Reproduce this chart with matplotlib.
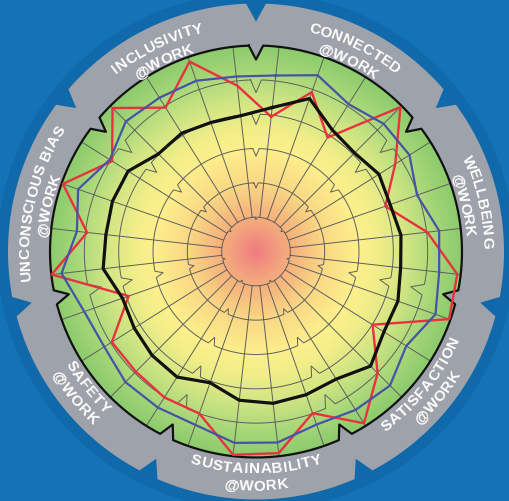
import numpy as np
import matplotlib
matplotlib.use('Agg')
import matplotlib.pyplot as plt
from matplotlib.colors import LinearSegmentedColormap
from matplotlib.font_manager import FontProperties, findfont, get_font

# scores per spoke, clockwise from the top (ring units: inner circle = 1, outer edge = 6)
red = [3.95, 4.92, 3.92, 5.95, 4.79, 3.99, 5.02, 5.90, 5.96, 4.01, 5.01, 5.91, 4.99, 5.91,
       5.96, 5.00, 5.02, 4.95, 4.96, 3.93, 5.99, 4.95, 5.96, 4.95, 5.91, 4.95, 5.86, 4.86]
blue = [5.16, 5.44, 5.07, 5.26, 5.28, 4.97, 5.37, 5.37, 5.54, 5.17, 5.52, 5.45, 5.34, 5.60,
        5.61, 5.35, 5.37, 5.38, 5.22, 5.30, 5.70, 5.25, 5.49, 5.03, 5.36, 5.29, 5.27, 5.13]
black = [4.22, 4.72, 4.18, 4.06, 4.23, 4.14, 4.25, 4.24, 4.38, 4.40, 4.72, 4.39, 4.42, 4.45,
         4.36, 4.05, 4.32, 4.28, 4.19, 4.12, 4.48, 4.40, 4.43, 4.40, 4.02, 4.07, 3.98, 3.98]

sectors = ['CONNECTED', 'WELLBEING', 'SATISFACTION', 'SUSTAINABILITY',
           'SAFETY', 'UNCONSCIOUS BIAS', 'INCLUSIVITY']
upright = [True, True, False, False, False, True, True]  # reads clockwise on the outside

W, H, DPI = 509, 502, 100
cx, cy = 256, 249.5      # centre, px from bottom-left
unit = 34.33             # px per ring
R_ax = 259

n_sec = len(sectors)
sec_w = 2 * np.pi / n_sec
n_sp = len(red)
spoke_th = (np.arange(n_sp) + 0.5) * 2 * np.pi / n_sp

fig = plt.figure(figsize=(W / DPI, H / DPI), dpi=DPI, facecolor='#1373b6')
ax = fig.add_axes([(cx - R_ax) / W, (cy - R_ax) / H, 2 * R_ax / W, 2 * R_ax / H],
                  projection='polar')
ax.set_theta_zero_location('N')
ax.set_theta_direction(-1)
ax.set_rlim(0, R_ax / unit)
ax.set_facecolor('#0f69aa')
ax.grid(False)
ax.set_xticks([])
ax.set_yticks([])
ax.spines['polar'].set_visible(False)


def notched(r, depth, hw, n=80):
    th, rr = [], []
    for k in range(n_sec):
        b = k * sec_w
        th += [b - hw, b, b + hw]
        rr += [r, r - depth, r]
        a = np.linspace(b + hw, b + sec_w - hw, n)[1:-1]
        th += list(a)
        rr += [r] * len(a)
    th.append(th[0])
    rr.append(rr[0])
    return np.array(th), np.array(rr)


# grey outer band
th_g, r_g = notched(248 / unit, 18 / unit, np.radians(2.3))
ax.fill(th_g, r_g, color='#9ea2aa', lw=0, zorder=1)

# gradient disc
cmap = LinearSegmentedColormap.from_list('disc', [
    (0.0, '#f07c80'), (0.08, '#f2967e'), (0.17, '#f5b07c'), (0.33, '#fad884'),
    (0.5, '#fdf08c'), (0.6, '#f2ee88'), (0.75, '#cde482'), (0.87, '#a9d879'),
    (1.0, '#8ccb6c')])
th_d, r_d = notched(6, 14 / unit, np.radians(2.0))
disc = ax.fill(th_d, r_d, facecolor='none', edgecolor='none', zorder=2)[0]
tg = np.linspace(0, 2 * np.pi, 361)
rg = np.linspace(0, 6.2, 125)
T, Rg = np.meshgrid(tg, rg)
mesh = ax.pcolormesh(T, Rg, Rg, cmap=cmap, vmin=0, vmax=6, shading='gouraud', zorder=2)
mesh.set_clip_path(disc)

# rings and spokes
for k in range(1, 6):
    th_r, r_r = notched(k, 0.075 * k, np.radians(1.8))
    ax.plot(th_r, r_r, color='#5e5e5e', lw=0.7, zorder=3)
for a in spoke_th:
    ax.plot([a, a], [1, 6], color='#5e5e5e', lw=0.7, zorder=3)
ax.plot(th_d, r_d, color='#111111', lw=1.6, zorder=4)

# score lines
th_c = np.append(spoke_th, spoke_th[0])
ax.plot(th_c, red + red[:1], color='#e8323f', lw=1.7, zorder=5)
ax.plot(th_c, blue + blue[:1], color='#4653a6', lw=1.6, zorder=6)
ax.plot(th_c, black + black[:1], color='#111111', lw=2.3, zorder=7)

# curved labels, one glyph at a time using the font's advance widths
fsize = 11
fp = FontProperties(family='Liberation Sans', weight='bold', size=fsize)
ft = get_font(findfont(fp))
ft.set_size(fsize, DPI)
track = 0.5


def adv(ch):
    return ft.load_char(ord(ch)).linearHoriAdvance / 65536 + track


cap = 0.716 * fsize * DPI / 72


def curved(text, c0, r_mid, up):
    widths = [adv(ch) for ch in text]
    total = sum(widths) - track
    pos = 0.0
    for ch, w in zip(text, widths):
        s = pos + (w - track) / 2 - total / 2
        pos += w
        if ch == ' ':
            continue
        if up:
            c = c0 + np.degrees(s / r_mid)
            rb = r_mid - cap / 2
            rot = -c
        else:
            c = c0 - np.degrees(s / r_mid)
            rb = r_mid + cap / 2
            rot = 180 - c
        ax.text(np.radians(c), rb / unit, ch, rotation=rot, rotation_mode='anchor',
                ha='center', va='baseline', fontproperties=fp, color='white', zorder=8)


for k, (name, up) in enumerate(zip(sectors, upright)):
    c0 = np.degrees((k + 0.5) * sec_w)
    if up:
        curved(name, c0, 232, True)
        curved('@WORK', c0, 215, True)
    else:
        curved(name, c0, 215.5, False)
        curved('@WORK', c0, 232.5, False)

fig.savefig('out.png', dpi=DPI, facecolor=fig.get_facecolor())
